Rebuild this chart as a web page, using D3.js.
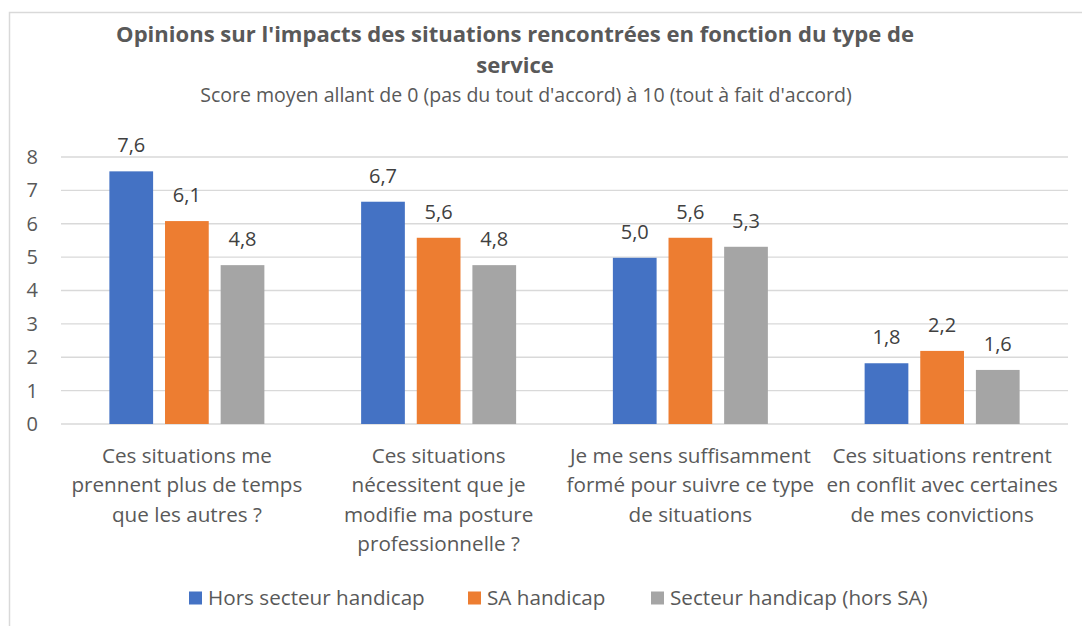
<!DOCTYPE html>
<html>
<head>
<meta charset="utf-8">
<script src="https://cdn.jsdelivr.net/npm/d3@7"></script>
<style>
  html, body { margin: 0; padding: 0; background: #fff; }
  svg { display: block; }
  text { font-family: "Open Sans", "Noto Sans", sans-serif; }
</style>
</head>
<body>
<svg id="chart" width="1082" height="626"></svg>
<script>
const titleLines = ["Opinions sur l'impacts des situations rencontrées en fonction du type de", "service"];
const subtitle = "Score moyen allant de 0 (pas du tout d'accord) à 10 (tout à fait d'accord)";
const categories = [
  "Ces situations me\nprennent plus de temps\nque les autres ?",
  "Ces situations\nnécessitent que je\nmodifie ma posture\nprofessionnelle ?",
  "Je me sens suffisamment\nformé pour suivre ce type\nde situations",
  "Ces situations rentrent\nen conflit avec certaines\nde mes convictions"
];
const seriesNames = ["Hors secteur handicap", "SA handicap", "Secteur handicap (hors SA)"];
const horsSecteur = [7.57, 6.66, 4.98, 1.82];
const saHandicap = [6.08, 5.58, 5.58, 2.19];
const secteurHorsSA = [4.76, 4.76, 5.31, 1.62];
const yTicks = [0, 1, 2, 3, 4, 5, 6, 7, 8];
const colors = ["#4472C4", "#ED7D31", "#A5A5A5"];

const seriesValues = [horsSecteur, saHandicap, secteurHorsSA];

const svg = d3.select("#chart");
const W = 1082, H = 626;
const plot = { left: 61, right: 1068, top: 157, bottom: 424 };

// scale a text's font-size so its rendered width equals target
function fitSize(node, base, target) {
  const len = node.getComputedTextLength();
  return len > 0 ? base * target / len : base;
}

// frame
svg.append("rect")
  .attr("x", 9.5).attr("y", 12.5)
  .attr("width", W + 20).attr("height", H + 20)
  .attr("fill", "none").attr("stroke", "#d9d9d9").attr("stroke-width", 1.5);

// title
const titleText = svg.append("g").selectAll("text").data(titleLines).join("text")
  .attr("x", 515).attr("y", (d, i) => 42 + i * 31)
  .attr("text-anchor", "middle")
  .attr("font-size", 20).attr("font-weight", "bold")
  .attr("fill", "#595959")
  .text(d => d);
const titleSize = fitSize(titleText.nodes()[0], 20, 798);
titleText.attr("font-size", titleSize);

const sub = svg.append("text")
  .attr("x", 526).attr("y", 102)
  .attr("text-anchor", "middle")
  .attr("font-size", 16)
  .attr("fill", "#595959")
  .text(subtitle);
sub.attr("font-size", fitSize(sub.node(), 16, 652));

const x0 = d3.scaleBand().domain(d3.range(categories.length))
  .range([plot.left, plot.right]).paddingInner(0.3843).paddingOuter(0.3843 / 2);
const x1 = d3.scaleBand().domain(d3.range(seriesNames.length))
  .range([0, x0.bandwidth()]).paddingInner(0.214).paddingOuter(0);
const y = d3.scaleLinear().domain([0, 8]).range([plot.bottom, plot.top]);

// gridlines
svg.append("g").selectAll("line").data(yTicks).join("line")
  .attr("x1", plot.left).attr("x2", plot.right)
  .attr("y1", d => y(d)).attr("y2", d => y(d))
  .attr("stroke", "#d9d9d9").attr("stroke-width", 1.3);

// y axis labels
const yAxis = d3.axisLeft(y).tickValues(yTicks).tickSize(0).tickPadding(0).tickFormat(d3.format("d"));
const yg = svg.append("g").attr("transform", `translate(38,0)`).call(yAxis);
yg.select(".domain").remove();
yg.selectAll("text").attr("font-size", 20).attr("fill", "#595959")
  .attr("font-family", "Open Sans");

// bars
const fmt = v => d3.format(".1f")(v).replace(".", ",");
const groups = svg.append("g").selectAll("g").data(categories.map((c, i) => i)).join("g")
  .attr("transform", i => `translate(${x0(i)},0)`);
groups.selectAll("rect").data(i => seriesValues.map((s, k) => ({ k, v: s[i] }))).join("rect")
  .attr("x", d => x1(d.k)).attr("width", x1.bandwidth())
  .attr("y", d => y(d.v)).attr("height", d => y(0) - y(d.v))
  .attr("fill", d => colors[d.k]);
groups.selectAll("text").data(i => seriesValues.map((s, k) => ({ k, v: s[i] }))).join("text")
  .attr("x", d => x1(d.k) + x1.bandwidth() / 2)
  .attr("y", d => y(d.v) - 19)
  .attr("text-anchor", "middle")
  .attr("font-size", 20).attr("fill", "#404040")
  .text(d => fmt(d.v));

// category labels
const cat = svg.append("g").selectAll("text").data(categories).join("text")
  .attr("text-anchor", "middle")
  .attr("font-size", 19).attr("fill", "#595959")
  .attr("transform", (d, i) => `translate(${x0(i) + x0.bandwidth() / 2},463)`);
const tspans = cat.selectAll("tspan").data(d => d.split("\n")).join("tspan")
  .attr("x", 0).attr("y", (d, j) => j * 29.3)
  .text(d => d);
const refLine = tspans.filter(d => d === "prennent plus de temps").node();
const catSize = fitSize(refLine, 19, 231);
cat.attr("font-size", catSize);

// legend
const legendX = [189, 468, 651];
const lg = svg.append("g").selectAll("g").data(seriesNames).join("g")
  .attr("transform", (d, i) => `translate(${legendX[i]},598)`);
lg.append("rect").attr("x", 0).attr("y", -6.5).attr("width", 13).attr("height", 13)
  .attr("fill", (d, i) => colors[i]);
const lgText = lg.append("text").attr("x", 19).attr("y", 7)
  .attr("font-size", 19).attr("fill", "#595959")
  .text(d => d);
const lgSize = fitSize(lgText.nodes()[0], 19, 217);
lgText.attr("font-size", lgSize);
</script>
</body>
</html>
